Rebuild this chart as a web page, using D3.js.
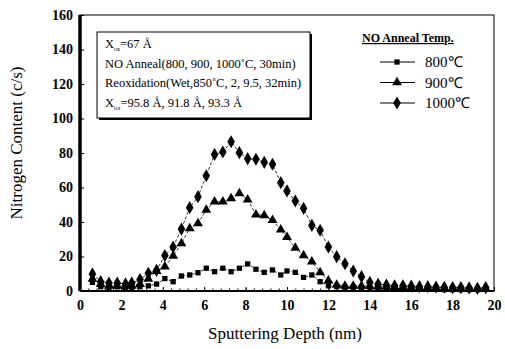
<!DOCTYPE html>
<html>
<head>
<meta charset="utf-8">
<script src="https://cdn.jsdelivr.net/npm/d3@7"></script>
<style>
  body { margin: 0; background: #fff; }
</style>
</head>
<body>
<div id="chart-area"></div>
<script>
var depth = [0.6, 1.0, 1.4, 1.8, 2.2, 2.5, 2.9, 3.3, 3.7, 4.1, 4.5, 4.9, 5.3, 5.7, 6.1, 6.5, 6.9, 7.3, 7.7, 8.1,
    8.5, 8.9, 9.3, 9.7, 10.0, 10.4, 10.8, 11.2, 11.6, 12.0, 12.4, 12.8, 13.2, 13.6, 14.0, 14.4, 14.8, 15.2, 15.6,
    16.0, 16.4, 16.8, 17.2, 17.6, 18.0, 18.4, 18.8, 19.2, 19.6];
var n800 = [5, 2.5, 2, 2.5, 2, 2, 2.5, 3, 4, 7.2, 5.4, 8.7, 9.3, 10.6, 13.2, 11.2, 13.2, 11.2, 13.2, 15.7,
    12.6, 10.8, 12.2, 9.3, 11.6, 10.8, 7.9, 9.3, 5.4, 3, 2.5, 2, 2, 1.5, 1.5, 1.5, 1.2, 1.2, 1, 1,
    1, 1, 1, 0.8, 0.8, 0.8, 0.8, 0.8, 1];
var n900 = [7, 4, 3, 3, 3, 3, 4, 7, 11.5, 14.1, 20.3, 27.6, 36.3, 39.2, 47, 51.8, 51.8, 53.7, 56.6, 53,
    44.3, 43.8, 41, 35.6, 31.2, 25, 20.6, 17, 10.8, 6, 3.5, 3, 3, 3, 2.8, 2.5, 2.5, 2.3, 2.2, 2,
    2, 2, 1.8, 1.8, 1.6, 1.5, 1.5, 1.5, 1.5];
var n1000 = [9.9, 5.4, 4.6, 4.6, 4.1, 4.6, 6.6, 10.3, 12, 20.6, 25.5, 35.9, 48.3, 54.7, 66.8, 79.2, 80.6, 86.5, 80.2, 76.7,
    76.4, 74.6, 73.5, 62.8, 58, 52.2, 47.9, 38, 35.2, 25.5, 19.9, 15.8, 11.6, 8.3, 5, 3.9, 3.5, 3, 3, 2.8,
    2.5, 2.5, 2.3, 2.2, 2, 2, 1.8, 1.5, 2];
var series_names = ["800\u2103", "900\u2103", "1000\u2103"];
var series_values = [n800, n900, n1000];
var x_ticks = [0, 2, 4, 6, 8, 10, 12, 14, 16, 18, 20];
var y_ticks = [0, 20, 40, 60, 80, 100, 120, 140, 160];
var note_lines = ["=67 \u00c5", "NO Anneal(800, 900, 1000\u02daC, 30min)",
    "Reoxidation(Wet,850\u02daC, 2, 9.5, 32min)", "=95.8 \u00c5, 91.8 \u00c5, 93.3 \u00c5"];

var serif = "'Liberation Serif', 'Times New Roman', Times, serif";

var margin = {top: 15, right: 11, bottom: 58, left: 80},
    width = 505 - margin.left - margin.right,
    height = 349 - margin.top - margin.bottom;

var svg = d3.select("#chart-area").append("svg")
    .attr("width", 505)
    .attr("height", 349)
    .attr("font-family", serif);
var g = svg.append("g")
    .attr("transform", "translate(" + margin.left + "," + margin.top + ")");

var xScale = d3.scaleLinear().domain([0, 20]).range([0, width]);
var yScale = d3.scaleLinear().domain([0, 160]).range([height, 0]);

// frame
g.append("rect")
    .attr("width", width).attr("height", height)
    .attr("fill", "none").attr("stroke", "#000").attr("stroke-width", 1);
g.append("line").attr("x1", 0).attr("x2", 0).attr("y1", 0).attr("y2", height)
    .attr("stroke", "#000").attr("stroke-width", 3.5);
g.append("line").attr("x1", 0).attr("x2", width).attr("y1", height).attr("y2", height)
    .attr("stroke", "#000").attr("stroke-width", 2);

// axes
var xAxis = g.append("g")
    .attr("transform", "translate(0," + height + ")")
    .call(d3.axisBottom(xScale).tickValues(x_ticks).tickSize(-4).tickPadding(9).tickFormat(d3.format("d")));
xAxis.select(".domain").remove();
xAxis.selectAll("text")
    .attr("font-family", serif).attr("font-size", 14).attr("font-weight", "bold");
g.append("g")
    .attr("transform", "translate(0," + height + ")")
    .call(d3.axisBottom(xScale).tickValues(d3.range(0, 20.01, 0.4)).tickSize(-2.5).tickFormat(""))
    .select(".domain").remove();

var yAxis = g.append("g")
    .call(d3.axisLeft(yScale).tickValues(y_ticks).tickSize(-4).tickPadding(7));
yAxis.select(".domain").remove();
yAxis.selectAll("text")
    .attr("font-family", serif).attr("font-size", 14).attr("font-weight", "bold");

g.append("text")
    .attr("x", width / 2 - 2).attr("y", height + 48)
    .attr("text-anchor", "middle")
    .attr("font-size", 17)
    .text("Sputtering Depth (nm)");
g.append("text")
    .attr("transform", "rotate(-90)")
    .attr("x", -height / 2 + 10).attr("y", -58)
    .attr("text-anchor", "middle")
    .attr("font-size", 17)
    .text("Nitrogen Content (c/s)");

// markers
var symbols = [d3.symbolSquare, d3.symbolTriangle, d3.symbolDiamond];
var sizes = [28, 42, 50];

var line = d3.line()
    .x(function (d) { return xScale(d[0]); })
    .y(function (d) { return yScale(d[1]); });

series_values.forEach(function (vals, s) {
    var pts = depth.map(function (d, i) { return [d, vals[i]]; });
    g.append("path")
        .datum(pts)
        .attr("d", line)
        .attr("fill", "none")
        .attr("stroke", "#000")
        .attr("stroke-width", 0.8)
        .attr("stroke-dasharray", "3,2");
    g.selectAll(".m" + s)
        .data(pts)
        .enter()
        .append("path")
        .attr("class", "m" + s)
        .attr("transform", function (d) {
            return "translate(" + xScale(d[0]) + "," + yScale(d[1]) + ")";
        })
        .attr("d", d3.symbol().type(symbols[s]).size(sizes[s]))
        .attr("fill", "#000");
});

// note box
var box = {x: 17, y: 17, w: 213, h: 86};
g.append("rect")
    .attr("x", box.x + 2).attr("y", box.y + 2).attr("width", box.w).attr("height", box.h)
    .attr("fill", "#000");
g.append("rect")
    .attr("x", box.x).attr("y", box.y).attr("width", box.w).attr("height", box.h)
    .attr("fill", "#fff").attr("stroke", "#000").attr("stroke-width", 1);
var subs = ["ox", null, null, "tot"];
note_lines.forEach(function (t, i) {
    var tx = g.append("text")
        .attr("x", box.x + 8).attr("y", box.y + 16 + i * 19.5)
        .attr("font-size", 12.5);
    if (subs[i]) {
        tx.append("tspan").text("X");
        tx.append("tspan").attr("dy", 3).attr("font-size", 6).text(subs[i]);
        tx.append("tspan").attr("dy", -3).text(t);
    } else {
        tx.text(t);
    }
});

// legend
g.append("text")
    .attr("x", 282).attr("y", 27)
    .attr("font-size", 12).attr("font-weight", "bold")
    .attr("text-decoration", "underline")
    .text("NO Anneal Temp.");
series_names.forEach(function (name, s) {
    var ly = 47 + s * 20.5;
    g.append("line")
        .attr("x1", 300).attr("x2", 335).attr("y1", ly).attr("y2", ly)
        .attr("stroke", "#000").attr("stroke-width", 1);
    g.append("path")
        .attr("transform", "translate(317," + ly + ")")
        .attr("d", d3.symbol().type(symbols[s]).size(sizes[s]))
        .attr("fill", "#000");
    g.append("text")
        .attr("x", 345).attr("y", ly + 5)
        .attr("font-size", 15)
        .text(name);
});
</script>
</body>
</html>
